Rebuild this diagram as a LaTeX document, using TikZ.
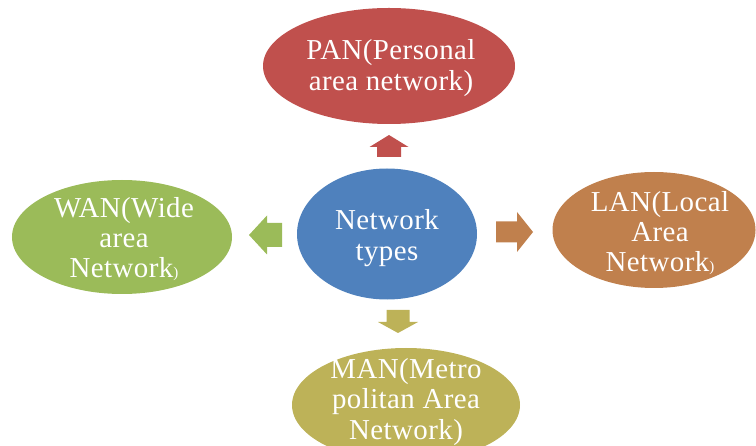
\documentclass[tikz,border=0pt]{standalone}
\usepackage{fontspec}
\setmainfont{Liberation Serif}[LetterSpace=1.5]
\usetikzlibrary{shapes.geometric}
\definecolor{panred}{RGB}{192,80,77}
\definecolor{netblue}{RGB}{79,129,189}
\definecolor{wangreen}{RGB}{155,187,89}
\definecolor{lanbrown}{RGB}{192,128,77}
\definecolor{manolive}{RGB}{189,178,88}
\tikzset{
  ell/.style={ellipse, draw=none, inner sep=0pt, outer sep=0pt},
  txt/.style={text=white, align=center, inner sep=0pt, font=\fontsize{29}{30.5}\selectfont},
  pics/blockarrow/.style n args={4}{code={
    \fill (0,0) -- (-#2,#3) -- (-#2,#4) -- (-#1,#4) -- (-#1,-#4) -- (-#2,-#4) -- (-#2,-#3) -- cycle;
  }}
}
\newcommand{\smallparen}{{\fontsize{15}{15}\selectfont)}}
\begin{document}
\begin{tikzpicture}[x=1bp,y=-1bp]
\useasboundingbox (0,0) rectangle (756,446);
\clip (0,0) rectangle (756,446);
% ellipses
\node[ell, fill=panred, minimum width=252bp, minimum height=116bp] (pan) at (389,66) {};
\node[ell, fill=netblue, minimum width=180bp, minimum height=131bp] (net) at (387,234) {};
\node[ell, fill=wangreen, minimum width=220bp, minimum height=114bp] (wan) at (122,237) {};
\node[ell, fill=lanbrown, minimum width=203bp, minimum height=116bp] (lan) at (654,230) {};
\node[ell, fill=manolive, minimum width=228bp, minimum height=114bp] (man) at (406,405) {};
% texts
\node[txt] (pant) at (391,68) {PAN(Personal\\area network)};
\node[txt] (nett) at (387,238) {Network\\types};
\node[txt] (want) at (124,239) {WAN(Wide\\area\\Network\smallparen};
\node[txt] (lant) at (660,233) {LAN(Local\\Area\\Network\smallparen};
\node[txt] (mant) at (406,402) {MAN(Metro\\politan Area\\Network)};
% block arrows
\coordinate (tipP) at (389,135);
\coordinate (tipL) at (533,232);
\coordinate (tipW) at (249,235);
\coordinate (tipM) at (398,333);
\pic[fill=panred, rotate=90] at (tipP) {blockarrow={22}{12}{19.5}{12}};
\pic[fill=lanbrown] at (tipL) {blockarrow={37}{16}{20}{10.5}};
\pic[fill=wangreen, rotate=180] at (tipW) {blockarrow={33}{18}{19.5}{12}};
\pic[fill=manolive, rotate=-90] at (tipM) {blockarrow={23}{11}{20}{11.5}};
\end{tikzpicture}
\end{document}
